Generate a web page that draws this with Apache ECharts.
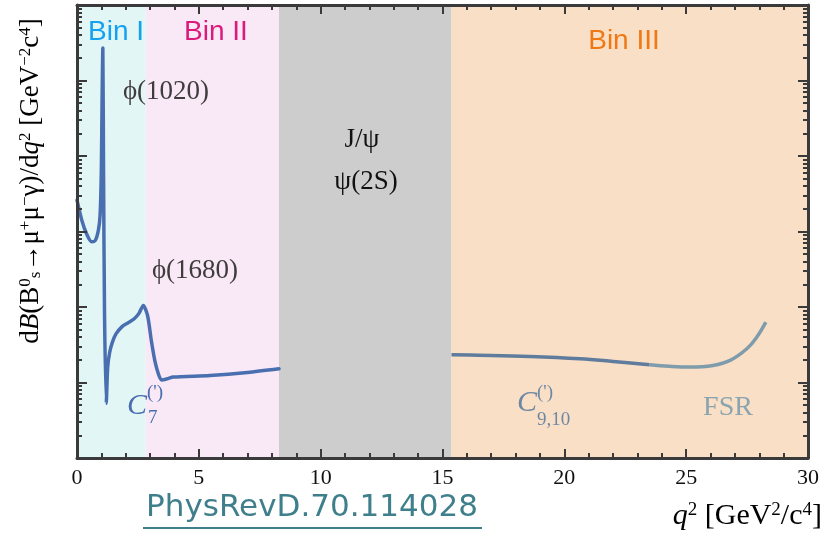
<!DOCTYPE html>
<html><head><meta charset="utf-8">
<script src="https://cdn.jsdelivr.net/npm/echarts@6/dist/echarts.min.js"></script>
<style>html,body{margin:0;padding:0;background:#fff}#c{width:833px;height:541px}</style>
</head><body><div id="c"></div>
<script>
// ---- data ----
const binEdges = [0, 2.82, 8.29, 15.37, 30];
const binColors = ['#e3f6f6', '#f9e9f6', '#cdcdcd', '#fadfc7'];
const xTicks = [0, 5, 10, 15, 20, 25, 30];
const yMajor = [0.1, 1, 10, 100, 1000, 10000, 100000];
const yMinorMult = [2, 3, 4, 5, 6, 7, 8, 9];

// low q2 region (Bin I + Bin II), C7 + resonances
const lowQ2   = [0.0, 0.2, 0.4, 0.6, 0.75, 0.88, 0.95, 1.0, 1.03, 1.06, 1.09, 1.13, 1.2, 1.26, 1.34, 1.45, 1.6, 1.85, 2.1, 2.35, 2.55, 2.72, 2.9, 3.05, 3.2, 3.34, 3.47, 3.7, 3.95, 5.46, 7.0, 8.29];
const lowRate = [260, 140, 92, 73, 76, 105, 170, 700, 6000, 27000, 600, 8, 0.53, 1.6, 2.5, 3.4, 4.4, 5.5, 6.2, 7.0, 8.3, 10.5, 7.6, 3.6, 1.9, 1.3, 1.08, 1.12, 1.18, 1.24, 1.36, 1.52];

// high q2 region (Bin III), C9,10 part
const highQ2   = [15.37, 16.5, 18.59, 20.64, 22.0, 23.5];
const highRate = [2.33, 2.30, 2.21, 2.06, 1.90, 1.72];
// FSR part
const fsrQ2   = [23.5, 24.3, 25.15, 26.1, 26.8, 27.5, 27.9, 28.27];
const fsrRate = [1.72, 1.64, 1.60, 1.68, 1.96, 2.82, 4.0, 6.3];

// ---- chart ----
const chart = echarts.init(document.getElementById('c'));
const yMinor = [];
yMajor.slice(0, -1).forEach(d => yMinorMult.forEach(m => yMinor.push(+(d * m).toPrecision(3))));

const frame = '#3a3a3a';
const serif = '"Liberation Serif", "DejaVu Serif", serif';
const sans = '"Liberation Sans", Arial, sans-serif';

function yAx(pos, values, len, showLine) {
  return {
    type: 'log', logBase: 10, min: 0.1, max: 100000, position: pos, z: 5,
    axisLine: { show: showLine, lineStyle: { color: frame, width: 3 } },
    axisTick: { show: true, inside: true, length: len, customValues: values, lineStyle: { color: frame, width: 2 } },
    axisLabel: { show: false }, splitLine: { show: false }
  };
}
function xAx(pos, labels) {
  return {
    type: 'value', min: 0, max: 30, interval: 5, position: pos, z: 5,
    axisLine: { show: true, lineStyle: { color: frame, width: 3 } },
    axisTick: { show: true, inside: true, length: 9, lineStyle: { color: frame, width: 2 } },
    minorTick: { show: true, splitNumber: 5, length: 5, lineStyle: { color: frame, width: 2 } },
    axisLabel: { show: labels, fontFamily: serif, fontSize: 22, color: '#111', margin: 9 },
    splitLine: { show: false }, minorSplitLine: { show: false }
  };
}

const bandData = [];
for (let i = 0; i < binColors.length; i++) {
  bandData.push([{ xAxis: binEdges[i], itemStyle: { color: binColors[i] } }, { xAxis: binEdges[i + 1] }]);
}
const zip = (a, b) => a.map((v, i) => [v, b[i]]);

function mkRich(fs, ss) {
  return {
    n: { fontFamily: serif, fontSize: fs, color: '#111' },
    i: { fontFamily: serif, fontSize: fs, fontStyle: 'italic', color: '#111' },
    sup: { fontFamily: serif, fontSize: ss, color: '#111', verticalAlign: 'top' },
    sub: { fontFamily: serif, fontSize: ss, color: '#111', verticalAlign: 'bottom' }
  };
}

function T(x, y, text, font, fill, align) {
  return { type: 'text', x: x, y: y, z: 100,
    style: { text: text, font: font, fill: fill, align: align || 'center', verticalAlign: 'middle' } };
}

chart.setOption({
  animation: false,
  grid: { left: 77, right: 25, top: 5, bottom: 83 },
  xAxis: [xAx('bottom', true), xAx('top', false)],
  yAxis: [yAx('left', yMajor, 10, true), yAx('left', yMinor, 5, false), yAx('right', yMajor, 10, true), yAx('right', yMinor, 5, false)],
  series: [
    { type: 'line', data: [], z: 1, silent: true, markArea: { silent: true, data: bandData } },
    { type: 'line', data: zip(lowQ2, lowRate), smooth: 0.25, showSymbol: false, z: 3,
      lineStyle: { width: 3.5, color: '#4a6fb0', join: 'round', cap: 'round' } },
    { type: 'line', data: zip(highQ2, highRate), smooth: 0.4, showSymbol: false, z: 3,
      lineStyle: { width: 3.5, color: '#5f7c9c' } },
    { type: 'line', data: zip(fsrQ2, fsrRate), smooth: 0.4, showSymbol: false, z: 3,
      lineStyle: { width: 3.5, color: '#7e9cab' } }
  ],
  graphic: [
    T(116, 32, 'Bin I', '28px ' + sans, '#14a2f0'),
    T(216, 32, 'Bin II', '28px ' + sans, '#dc1a7c'),
    T(624, 41, 'Bin III', '28px ' + sans, '#f07812'),
    T(166, 92, 'ϕ(1020)', '27px ' + serif, '#403c3e'),
    T(195, 271, 'ϕ(1680)', '27px ' + serif, '#403c3e'),
    T(362, 140, 'J/ψ', '27px ' + serif, '#111'),
    T(366, 182, 'ψ(2S)', '27px ' + serif, '#111'),
    T(137, 406, 'C', 'italic 30px ' + serif, '#4a6cb0'),
    T(147, 393, "(')", '19px ' + serif, '#4a6cb0', 'left'),
    T(148, 418, '7', '19px ' + serif, '#4a6cb0', 'left'),
    T(527, 403, 'C', 'italic 30px ' + serif, '#6d88a3'),
    T(537, 393, "(')", '19px ' + serif, '#6d88a3', 'left'),
    T(537, 420, '9,10', '19px ' + serif, '#6d88a3', 'left'),
    T(728, 408, 'FSR', '28px ' + serif, '#8aa4b0'),
    { type: 'text', x: 31, y: 181, z: 100, rotation: Math.PI / 2,
      style: { text: '{n|d}{i|B}{n|(B}{sup|0}{sub|s}{n|→μ}{sup|+}{n|μ}{sup|−}{n|γ)/d}{i|q}{sup|2}{n| [GeV}{sup|−2}{n|c}{sup|4}{n|]}',
               rich: mkRich(27, 17), align: 'center', verticalAlign: 'middle' } },
    { type: 'text', x: 822, y: 516, z: 100,
      style: { text: '{i|q}{sup|2}{n| [GeV}{sup|2}{n|/c}{sup|4}{n|]}', rich: mkRich(30, 19), align: 'right', verticalAlign: 'middle' } },
    T(312, 508, 'PhysRevD.70.114028', '31px "DejaVu Sans", sans-serif', '#3f7f8c'),
    { type: 'line', z: 100, shape: { x1: 143, y1: 528, x2: 482, y2: 528 }, style: { stroke: '#3f7f8c', lineWidth: 2 } }
  ]
});
</script></body></html>
